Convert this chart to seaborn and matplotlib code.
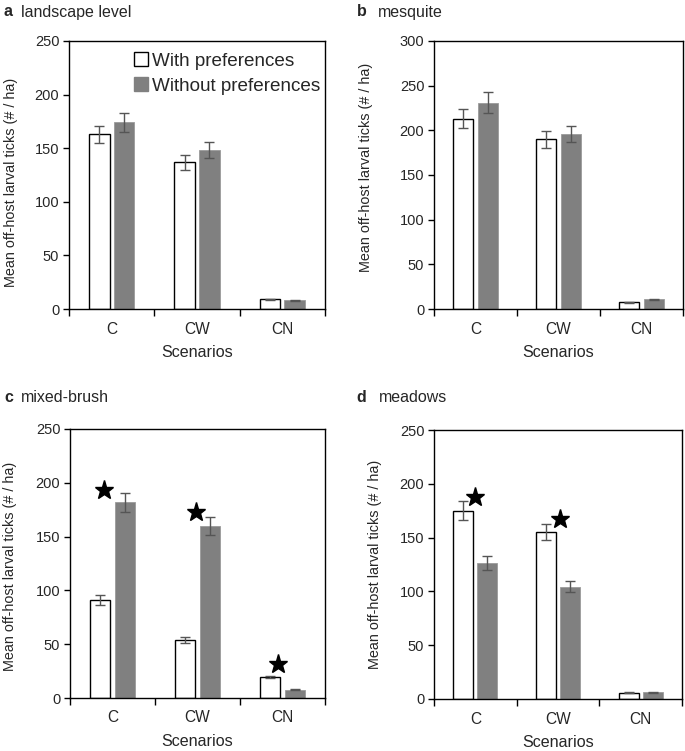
import numpy as np
import pandas as pd
import matplotlib
matplotlib.use("Agg")
import matplotlib.pyplot as plt
from matplotlib.patches import Patch
import seaborn as sns

# categorias y grupos
scenarios = ["C", "CW", "CN"]
groups = ["With preferences", "Without preferences"]

# valores (media y error)
land_with = [163, 137, 9]
land_without = [174, 148, 8]
land_with_err = [8, 7, 0.5]
land_without_err = [8.5, 7.5, 0.5]

mesq_with = [213, 190, 7.5]
mesq_without = [231, 196, 11]
mesq_with_err = [10.5, 9.5, 0.5]
mesq_without_err = [11.5, 9, 0.5]

brush_with = [91, 54, 19.5]
brush_without = [182, 160, 7.5]
brush_with_err = [4.8, 2.7, 1]
brush_without_err = [8.8, 8.2, 0.5]

mead_with = [175, 155, 6]
mead_without = [126.5, 104.5, 6.2]
mead_with_err = [8.8, 7.6, 0.3]
mead_without_err = [6.5, 5.3, 0.3]

# estrellas de significancia (escenario, desplazamiento, altura)
brush_star_scen = ["C", "CW", "CN"]
brush_star_dx = [-0.1, -0.02, -0.05]
brush_star_y = [193, 173, 32]
mead_star_scen = ["C", "CW"]
mead_star_dx = [0.0, 0.02]
mead_star_y = [187.5, 167.5]

panels = [
    ("a", "landscape level", land_with, land_without, land_with_err, land_without_err, 250, None),
    ("b", "mesquite", mesq_with, mesq_without, mesq_with_err, mesq_without_err, 300, None),
    ("c", "mixed-brush", brush_with, brush_without, brush_with_err, brush_without_err, 250,
     (brush_star_scen, brush_star_dx, brush_star_y)),
    ("d", "meadows", mead_with, mead_without, mead_with_err, mead_without_err, 250,
     (mead_star_scen, mead_star_dx, mead_star_y)),
]

sns.set_style("ticks")
plt.rcParams["font.family"] = ["Liberation Sans", "DejaVu Sans"]
plt.rcParams["font.size"] = 11

W, H = 685, 751
fig = plt.figure(figsize=(W / 100, H / 100), dpi=100)

# cajas de los ejes en pixeles: izquierda, arriba, derecha, abajo
boxes = [(69, 41, 325, 309), (434, 41, 683, 309), (70, 429, 325, 698), (434, 430, 682, 699)]
title_pos = [(3, 21, 12), (357, 378, 12), (4, 21, 398), (356, 379, 398)]
ylabel_pos = [(-0.199, 0.474), (-0.245, 0.53), (-0.208, 0.49), (-0.21, 0.5)]

gray = "#808080"

for i, (letter, name, w, wo, we, woe, ymax, stars) in enumerate(panels):
    l, t, r, b = boxes[i]
    ax = fig.add_axes([l / W, 1 - b / H, (r - l) / W, (b - t) / H])

    df = pd.DataFrame({
        "scenario": scenarios * 2,
        "group": [groups[0]] * 3 + [groups[1]] * 3,
        "mean": w + wo,
    })
    sns.barplot(data=df, x="scenario", y="mean", hue="group", order=scenarios,
                hue_order=groups, palette=["white", gray], saturation=1,
                width=0.58, gap=0.17, errorbar=None, legend=False, ax=ax)

    errs = [we, woe]
    bar_containers = list(ax.containers)
    for k, cont in enumerate(bar_containers):
        for p in cont.patches:
            if k == 0:
                p.set_edgecolor("black")
                p.set_linewidth(1.0)
            else:
                p.set_edgecolor("#9a9a9a")
                p.set_linewidth(0.6)
        xs = [p.get_x() + p.get_width() / 2 for p in cont.patches]
        ys = [p.get_height() for p in cont.patches]
        ax.errorbar(xs, ys, yerr=errs[k], fmt="none", ecolor="#555555",
                    elinewidth=1, capsize=3.5, capthick=1, zorder=5)

    if stars is not None:
        sc, dx, sy = stars
        sx = [scenarios.index(s) + d for s, d in zip(sc, dx)]
        ax.plot(sx, sy, linestyle="none", marker="*", color="black",
                markersize=14, zorder=6)

    ax.set_xlim(-0.5, 2.5)
    ax.set_ylim(0, ymax)
    ax.set_yticks(np.arange(0, ymax + 1, 50))
    ax.set_xticks([0, 1, 2])
    ax.set_xticklabels(scenarios)
    ax.set_xticks([-0.5, 0.5, 1.5, 2.5], minor=True)
    ax.tick_params(axis="x", which="major", length=0, pad=9, labelsize=11.2)
    ax.tick_params(axis="x", which="minor", length=5, width=1, direction="out", color="black")
    ax.tick_params(axis="y", length=4, width=1, direction="out", pad=3, labelsize=10.5, color="black")
    for s in ax.spines.values():
        s.set_visible(True)
        s.set_color("black")
        s.set_linewidth(1)

    ax.set_xlabel("Scenarios", fontsize=11.6, labelpad=6)
    ax.set_ylabel("Mean off-host larval ticks (# / ha)", fontsize=10.4)
    ax.yaxis.set_label_coords(*ylabel_pos[i])

    lx, nx, ty = title_pos[i]
    fig.text(lx / W, 1 - ty / H, letter, fontsize=11.5, fontweight="bold", va="center")
    fig.text(nx / W, 1 - ty / H, name, fontsize=11.5, va="center")

    if i == 0:
        handles = [Patch(facecolor="white", edgecolor="black", linewidth=1),
                   Patch(facecolor=gray, edgecolor=gray)]
        ax.legend(handles=handles, labels=groups, loc="upper left",
                  bbox_to_anchor=(0.21, 1.0), frameon=False, fontsize=13.6,
                  handlelength=0.75, handleheight=0.75, handletextpad=0.2,
                  labelspacing=0.4, borderaxespad=0.2)

fig.savefig("out.png", dpi=100)
